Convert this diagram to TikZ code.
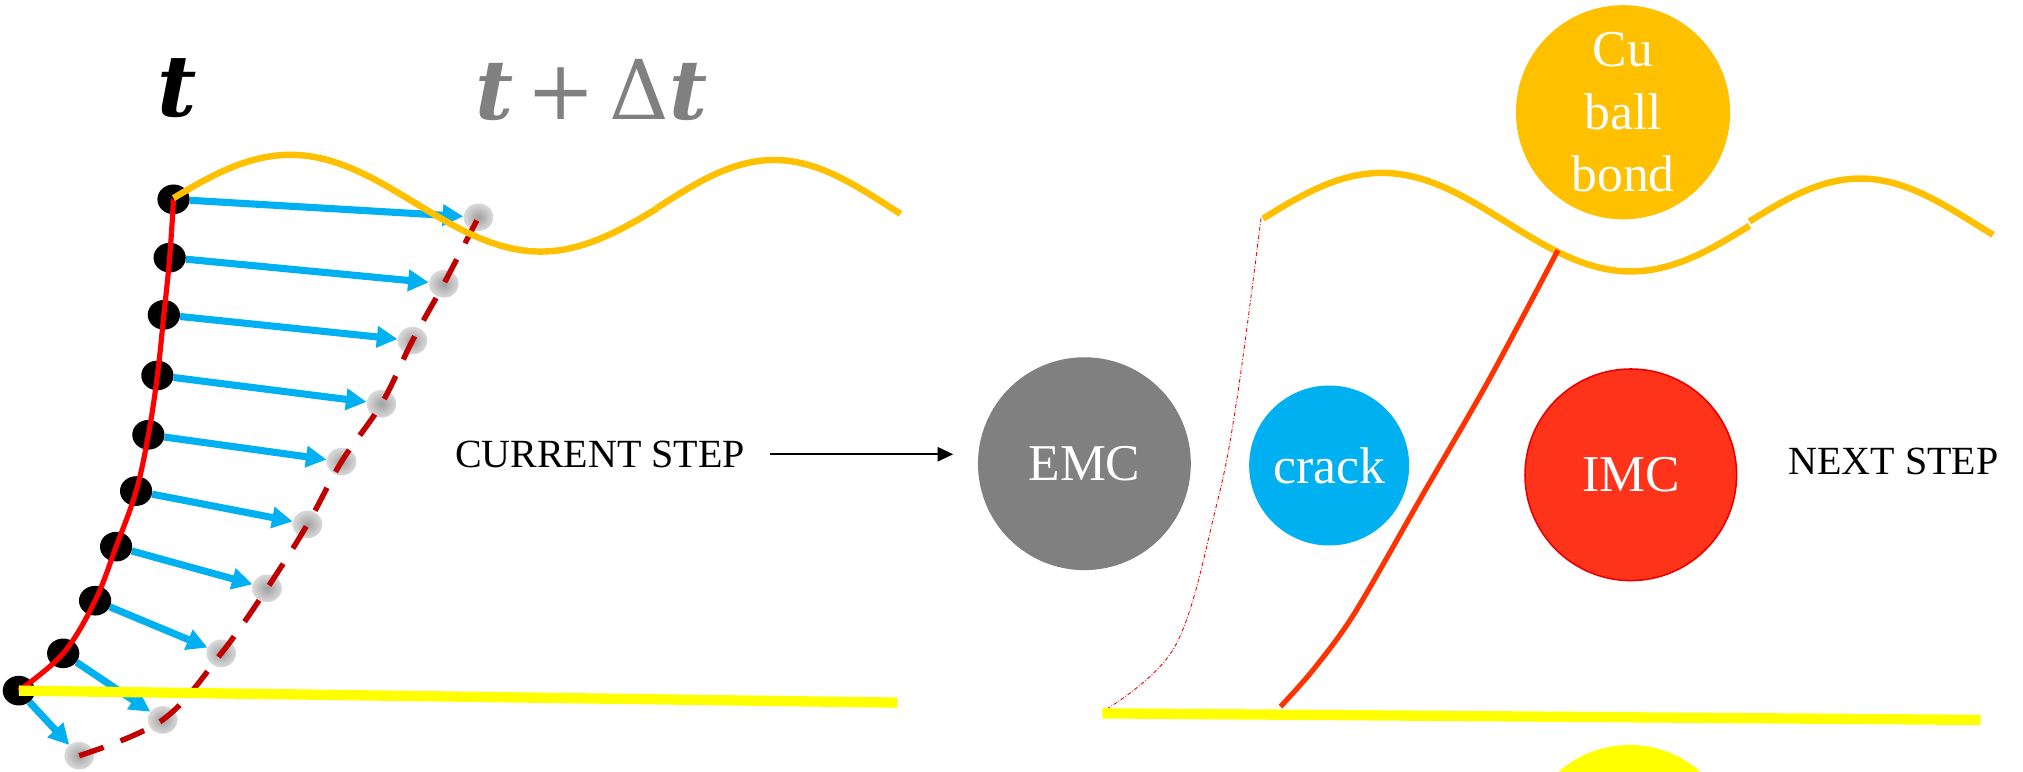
\documentclass[tikz,border=0pt]{standalone}
\usepackage{fontspec}
\setmainfont{Liberation Serif}
\newfontfamily\tfnt{DejaVu Serif}
\usetikzlibrary{arrows.meta,shapes.geometric}
\definecolor{cblue}{HTML}{00B0F0}
\definecolor{corange}{HTML}{FFC000}
\definecolor{cdred}{HTML}{C00000}
\definecolor{cyel}{HTML}{FFFF00}
\definecolor{cimc}{HTML}{FF3319}
\definecolor{cimcb}{HTML}{E80000}
\definecolor{cgray}{HTML}{808080}
\definecolor{cline}{HTML}{FF3300}
\tikzset{
  bdot/.style={ellipse,fill=black,minimum width=25pt,minimum height=23pt,inner sep=0pt},
  gdot/.style={ellipse,minimum width=23pt,minimum height=21.5pt,inner sep=0pt,shading=radial,
    inner color={rgb,255:red,160;green,160;blue,160},
    outer color={rgb,255:red,218;green,218;blue,218}},
  barrow/.style={draw=cblue,line width=5.5pt,-{Triangle[length=16pt,width=16pt]}},
  redcurve/.style={draw=red,line width=4pt},
  dredcurve/.style={draw=cdred,line width=4.2pt,dash pattern=on 20pt off 14pt},
  yline/.style={draw=cyel,line width=8pt},
  wave/.style={draw=corange,line width=5pt},
  ball/.style={circle,inner sep=0pt,text=white,align=center,
    font={\fontsize{40}{48.7}\selectfont}},
  steptext/.style={inner sep=0pt,anchor=base west,font={\fontsize{31}{36}\selectfont}},
}
\begin{document}
\begin{tikzpicture}[x=1pt,y=1pt]
\clip (0,0) rectangle (1568,598);
% gray dots (t + dt)
\foreach \n/\x/\y in {1/370.8/429.6,2/344/378,3/319.7/334,4/295.7/285,5/264.7/240.2,
  6/238.3/191.6,7/207/142,8/171.5/91.6,9/126/40,10/61.4/12.3}
  \node[gdot] (g\n) at (\x,\y) {};
% black dots (t)
\foreach \n/\x/\y in {1/134.5/443.5,2/131.5/398.3,3/127/354,4/122/307,5/115/261,
  6/105.5/217.4,7/90/174.3,8/73.7/132.4,9/49/91.6,10/14.6/62.7}
  \node[bdot] (d\n) at (\x,\y) {};
% displacement arrows
\foreach \n in {1,...,10} \draw[barrow] (d\n) -- (g\n);
% crack front at t
\draw[redcurve] plot[smooth,tension=0.6] coordinates {(d10.center) (d9.center) (d8.center)
  (d7.center) (d6.center) (d5.center) (d4.center) (d3.center) (d2.center) (d1.center)};
% crack front at t + dt
\draw[dredcurve] plot[smooth,tension=0.6] coordinates {(g10.center) (g9.center) (g8.center)
  (g7.center) (g6.center) (g5.center) (g4.center) (g3.center) (g2.center) (g1.center)};
% substrate line left
\coordinate (yl) at (695.5,53.4);
\draw[yline] (d10.center) -- (yl);
% wavy interface left
\draw[wave] plot[domain=134.5:509,samples=80] (\x,{440.5+37.5*cos((\x-225)/194*180)});
\draw[wave] plot[domain=509:698,samples=50] (\x,{437+37*cos((\x-600)/181*180)});
% labels t, t + dt
\node[anchor=base,inner sep=0pt,font={\tfnt\fontsize{66}{72}\selectfont\bfseries\itshape}] (tlab) at (137,507.6) {t};
\node[anchor=base west,inner sep=0pt,text=cgray,font={\tfnt\fontsize{64}{70}\selectfont}] (tdt) at (368,505.5) {{\bfseries\itshape t}\,+\,Δ{\bfseries\itshape t}};
% legend circles
\node[ball,fill=cgray,minimum size=165pt] (emc) at (840.5,238.6) {EMC};
\node[ball,fill=cblue,minimum size=124pt] (crack) at (1030.2,237.2) {crack};
\node[ball,fill=cimc,draw=cimcb,line width=1.2pt,minimum size=164pt] (imc) at (1264,230) {IMC};
\node[ball,fill=corange,minimum size=166pt] (cu) at (1258,511) {Cu\\ball\\bond};
\fill[cyel] (1263,-62.4) circle (83);
% step labels
\node[steptext] (cur) at (352.5,235.8) {CURRENT STEP};
\node[steptext] (next) at (1386,230.3) {NEXT STEP};
\draw[line width=1.4pt,-{Triangle[length=12pt,width=11pt]},shorten <=19pt,shorten >=19pt]
  (cur.east) -- (cur.east -| emc.west);
% right panel: wavy interface
\draw[wave] plot[domain=979:1356,samples=80] (\x,{425.8+38.2*cos((\x-1071)/193*180)});
\draw[wave] plot[domain=1356:1544.8,samples=50] (\x,{424+35.6*cos((\x-1442)/179.6*180)});
% previous crack front (thin dotted)
\draw[red,line width=0.7pt,dash pattern=on 3pt off 1.5pt on 0.6pt off 1.5pt]
  plot[smooth,tension=0.6] coordinates {(977.4,428.8) (958.8,289.3) (942.6,205.3) (910.6,96.8) (854.4,46.4)};
% new crack front
\draw[draw=cline,line width=4pt] plot[smooth,tension=0.5] coordinates
  {(1207.6,404.2) (1154,303.5) (1103.3,215.6) (1049.8,122.6) (1017.7,78.7) (992.5,50.3)};
% substrate line right
\coordinate (yr1) at (854.4,45.1);
\coordinate (yr2) at (1535.1,40);
\draw[yline] (yr1) -- (yr2);
\end{tikzpicture}
\end{document}
